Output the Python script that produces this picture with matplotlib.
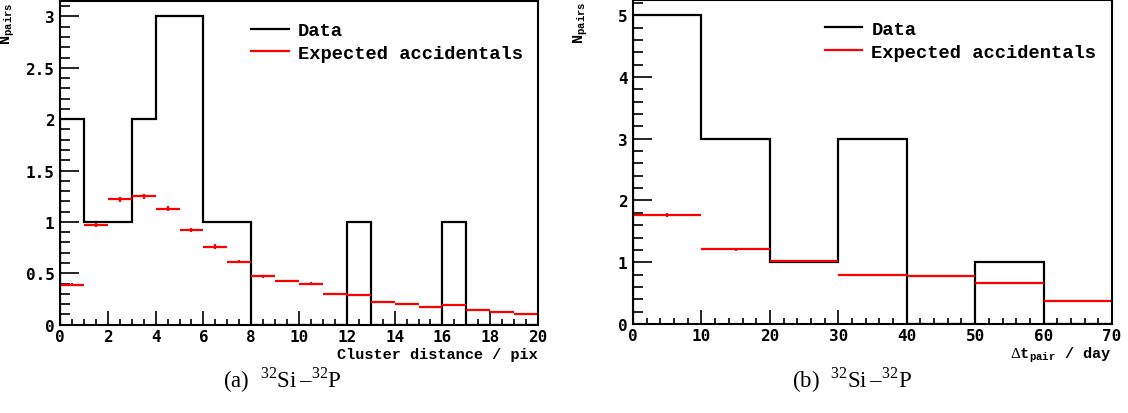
import numpy as np
import matplotlib
matplotlib.use("Agg")
import matplotlib.pyplot as plt
from matplotlib.ticker import MultipleLocator, FuncFormatter
from matplotlib.lines import Line2D
from matplotlib.font_manager import FontProperties

plt.rcParams['mathtext.fontset'] = 'custom'
plt.rcParams['mathtext.rm'] = 'Liberation Serif'
plt.rcParams['mathtext.tt'] = 'Liberation Mono:bold'

# (a) cluster distance, 1 pix bins
dist_edges = np.arange(0, 21, 1)
dist_data = [2, 1, 1, 2, 3, 3, 1, 1, 0, 0, 0, 0, 1, 0, 0, 0, 1, 0, 0, 0]
dist_acc = [0.39, 0.97, 1.22, 1.25, 1.13, 0.92, 0.76, 0.61, 0.47, 0.42,
            0.40, 0.30, 0.29, 0.22, 0.20, 0.17, 0.19, 0.14, 0.12, 0.10]
dist_err = [0.015, 0.02, 0.025, 0.025, 0.02, 0.02, 0.02, 0.015, 0.012, 0.01,
            0.01, 0.01, 0.01, 0.008, 0.008, 0.007, 0.008, 0.006, 0.006, 0.005]

# (b) time between pair, 10 day bins
dt_edges = np.arange(0, 71, 10)
dt_data = [5, 3, 1, 3, 0, 1, 0]
dt_acc = [1.77, 1.21, 1.02, 0.80, 0.78, 0.67, 0.38]
dt_err = [0.03, 0.02, 0.015, 0.012, 0.012, 0.01, 0.008]

mono = dict(family='Liberation Mono', weight='bold')
tickfont = FontProperties(family='DejaVu Sans Mono', weight='bold', size=11.5)

fig = plt.figure(figsize=(11.28, 4.14), dpi=100)
ax1 = fig.add_axes([0.0532, 0.2135, 0.4238, 0.7815])
ax2 = fig.add_axes([0.5612, 0.2150, 0.4246, 0.7830])


def draw(ax, edges, data, acc, err, ymax, xmaj, xmin, ymaj, ymin):
    ax.stairs(data, edges, color='black', lw=1.6)
    centers = (edges[:-1] + edges[1:]) / 2
    half = (edges[1:] - edges[:-1]) / 2
    ax.errorbar(centers, acc, xerr=half, yerr=err, fmt='none', ecolor='red',
                elinewidth=1.6, capsize=0)
    ax.set_xlim(edges[0], edges[-1])
    ax.set_ylim(0, ymax)
    ax.xaxis.set_major_locator(MultipleLocator(xmaj))
    ax.xaxis.set_minor_locator(MultipleLocator(xmin))
    ax.yaxis.set_major_locator(MultipleLocator(ymaj))
    ax.yaxis.set_minor_locator(MultipleLocator(ymin))
    ax.yaxis.set_major_formatter(FuncFormatter(lambda v, p: '%g' % v))
    ax.xaxis.set_major_formatter(FuncFormatter(lambda v, p: '%g' % v))
    ax.tick_params(which='both', direction='in', top=False, right=False)
    ax.tick_params(axis='y', which='major', length=14, width=1.2, pad=4)
    ax.tick_params(axis='y', which='minor', length=7, width=1.2)
    ax.tick_params(axis='x', which='major', length=10, width=1.2, pad=3)
    ax.tick_params(axis='x', which='minor', length=4.5, width=1.2)
    for lab in ax.get_xticklabels() + ax.get_yticklabels():
        lab.set_fontproperties(tickfont)
    for s in ax.spines.values():
        s.set_linewidth(1.5)
    handles = [Line2D([], [], color='black', lw=1.6),
               Line2D([], [], color='red', lw=1.6)]
    ax.legend(handles, ['Data', 'Expected accidentals'], loc='upper left',
              bbox_to_anchor=(0.40, 0.935), frameon=False,
              prop=FontProperties(size=13.5, **mono),
              handlelength=2.0, handletextpad=0.5, labelspacing=0.3, borderpad=0,
              borderaxespad=0)


draw(ax1, dist_edges, dist_data, dist_acc, dist_err, 3.15, 2, 0.5, 0.5, 0.1)
draw(ax2, dt_edges, dt_data, dt_acc, dt_err, 5.25, 10, 2, 1, 0.2)

ax1.set_xlabel('Cluster distance / pix', loc='right', fontsize=11, labelpad=2, **mono)
ax1.set_ylabel(r'N$_{\mathtt{pairs}}$', loc='top', fontsize=11, **mono)
ax1.yaxis.set_label_coords(-0.09, 1.0)
ax2.set_xlabel(r'$\Delta$t$_{\mathtt{pair}}$ / day', loc='right', fontsize=11, labelpad=1, **mono)
ax2.set_ylabel(r'N$_{\mathtt{pairs}}$', loc='top', fontsize=11, **mono)
ax2.yaxis.set_label_coords(-0.09, 1.0)

fig.text(0.25, 0.082, r'(a)  $^{32}$Si$\,$–$^{32}$P', ha='center', va='center',
         family='Liberation Serif', fontsize=16.5)
fig.text(0.755, 0.082, r'(b)  $^{32}$Si$\,$–$^{32}$P', ha='center', va='center',
         family='Liberation Serif', fontsize=16.5)

fig.savefig('out.png', dpi=100)
